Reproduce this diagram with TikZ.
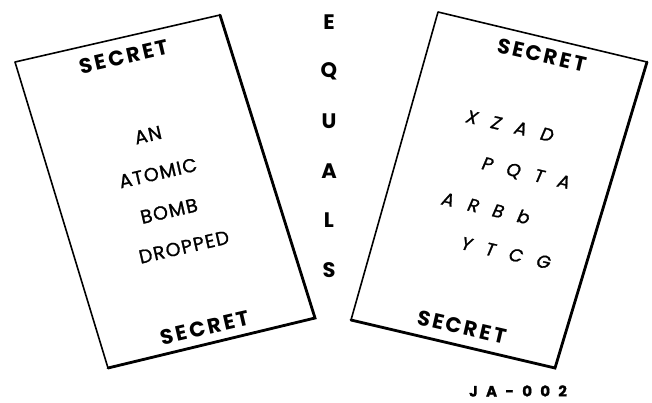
\documentclass[tikz,border=0pt]{standalone}
\usepackage{fontspec}
\setsansfont{Poppins}
\newfontfamily\stampfont{Poppins}[LetterSpace=12]
\newfontfamily\msgfont{Poppins}[LetterSpace=6, FakeBold=1.2]
\newfontfamily\cipherfont{Poppins}[LetterSpace=80, FakeBold=1.2]
\newfontfamily\tagfont{Poppins}[LetterSpace=55, FakeBold=1]
\usetikzlibrary{positioning}
\tikzset{
  card/.style    ={line width=1.6pt, line join=round},
  cardheavy/.style={line width=2.8pt, line cap=round},
  stamp/.style   ={inner sep=0pt, font=\stampfont\bfseries\fontsize{21}{21}\selectfont},
  msg/.style     ={inner sep=0pt, font=\msgfont\fontsize{19}{19}\selectfont},
  cipher/.style  ={inner sep=0pt, font=\cipherfont\itshape\fontsize{18}{18}\selectfont},
  eqletter/.style={inner sep=0pt, font=\sffamily\bfseries\fontsize{21}{21}\selectfont},
  tag/.style     ={inner sep=0pt, font=\tagfont\bfseries\fontsize{15}{15}\selectfont},
}
\begin{document}
\begin{tikzpicture}[x=1pt, y=-1pt]
  \useasboundingbox (0,0) rectangle (652,402);
  % plain text card
  \coordinate (ptl) at (15,62);   \coordinate (ptr) at (220,15);
  \coordinate (pbr) at (315,318); \coordinate (pbl) at (108,368);
  \draw[card] (ptl) -- (ptr) -- (pbr) -- (pbl) -- cycle;
  \draw[cardheavy] (ptr) -- (pbr) -- (pbl);
  \node[stamp, rotate=13] (ptop) at (124,57) {SECRET};
  \node[msg, rotate=13] (m1) at (148,135) {AN};
  \node[msg, rotate=13] (m2) at (158,173) {ATOMIC};
  \node[msg, rotate=13] (m3) at (169,211) {BOMB};
  \node[msg, rotate=13] (m4) at (184,247) {DROPPED};
  \node[stamp, rotate=13] (pbot) at (205,328) {SECRET};
  % cipher text card
  \coordinate (ctl) at (438,12);  \coordinate (ctr) at (647,62);
  \coordinate (cbr) at (555,368); \coordinate (cbl) at (351,320);
  \draw[card] (ctl) -- (ctr) -- (cbr) -- (cbl) -- cycle;
  \draw[cardheavy] (ctr) -- (cbr) -- (cbl);
  \node[stamp, rotate=-13] (ctop) at (542,55) {SECRET};
  \node[cipher, rotate=-13] (c1) at (510,126) {XZAD};
  \node[cipher, rotate=-13] (c2) at (526,174) {PQTA};
  \node[cipher, rotate=-13] (c3) at (486,208) {ARBb};
  \node[cipher, rotate=-13] (c4) at (506,253) {YTCG};
  \node[stamp, rotate=-13] (cbot) at (462,327) {SECRET};
  % the word between them
  \foreach \ch [count=\i from 0] in {E,Q,U,A,L,S}
    \node[eqletter] (eq\i) at (329,{22+49.6*\i}) {\ch};
  \node[tag] (fig) at (518,391) {JA-002};
\end{tikzpicture}
\end{document}
